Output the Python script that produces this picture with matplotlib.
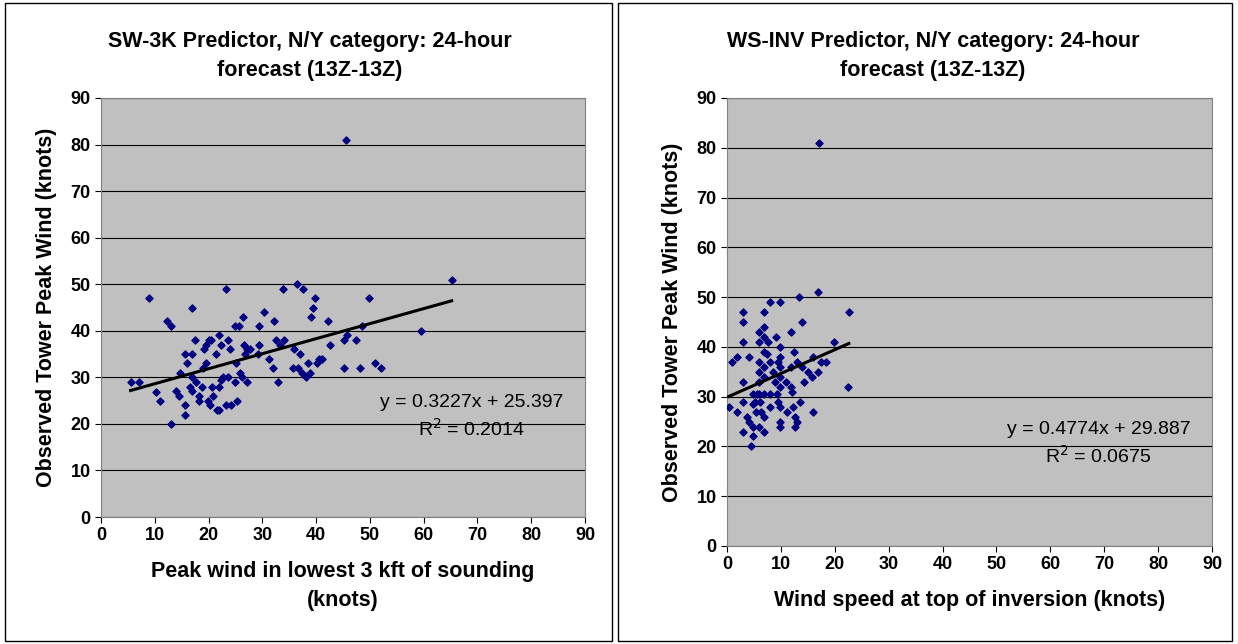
import numpy as np
import matplotlib.pyplot as plt
from matplotlib.patches import Rectangle

plt.rcParams['font.family'] = ['Liberation Sans', 'DejaVu Sans']

# left panel: peak wind in lowest 3 kft vs observed peak wind
sw_x = [5.5, 7, 9, 10.3, 11, 12.3, 13, 13, 14.7, 14, 14.5, 15.7, 15.9, 15.7, 15.7, 17, 17, 17.5,
        16.9, 16.6, 16.9, 17.6, 18.3, 18.3, 18.8, 19.1, 19.5, 20, 20.4, 19.5, 18.9, 19.9, 20.2,
        20.6, 20.8, 21.3, 21.9, 22.4, 21.6, 21.9, 22, 22.4, 22.7, 23.2, 23.6, 23.2, 24.2, 23.7,
        24, 24.9, 25.2, 25.1, 25, 25.7, 25.9, 26.4, 26.2, 26.6, 26.8, 27.2, 27.1, 27.7, 29.4,
        29.4, 29.2, 30.4, 31.2, 31.9, 32.1, 32.5, 33, 33.3, 33.8, 34.1, 35.7, 35.8, 36.5, 36.6,
        37, 37.6, 37.4, 38.2, 38.5, 38.9, 39, 39.4, 39.8, 40.2, 40.5, 41.1, 42.3, 42.5, 45.2,
        45.2, 45.7, 47.4, 48.2, 48.6, 49.8, 50.9, 52, 59.5, 65.2, 45.5]
sw_y = [29, 29, 47, 26.8, 25, 42, 41, 20, 31, 27, 26, 35, 33, 24, 22, 45, 35, 38,
        30, 28, 27, 29, 26, 25, 28, 36, 37, 38, 38, 33, 32, 25, 24,
        28, 26, 35, 39, 37, 23, 23, 28, 29.5, 30, 49, 38, 24, 24, 30,
        36, 41, 25, 33, 29, 41, 31, 43, 30, 37, 35, 36, 29, 36, 41,
        37, 35, 44, 34, 32, 42, 38, 29, 37, 49, 38, 32, 36, 50, 32,
        35, 49, 31, 30, 33, 31, 43, 45, 47, 33, 34, 34, 42, 37, 32,
        38, 39, 38, 32, 41, 47, 33, 32, 40, 51, 81]
sw_fit = (0.3227, 25.397)
sw_r2 = 0.2014

# right panel: wind speed at top of inversion vs observed peak wind
ws_x = [0.3, 0.9, 1.9, 1.9, 2.9, 2.9, 2.9, 2.9, 2.9, 2.9, 4, 3.8, 4, 4.5, 4.9, 4.9, 4.9, 4.9,
        5.2, 5.4, 5.5, 6, 6, 6, 6, 6, 6, 6, 6.1, 6.4, 6.9, 6.9, 6.9, 6.9, 6.9, 6.9, 6.9, 6.9,
        6.9, 7.4, 7.7, 7.9, 8, 8, 8, 8.6, 8.9, 9.1, 9.2, 9.4, 9.5, 9.8, 9.9, 9.9, 9.9, 9.9,
        9.9, 9.9, 9.8, 9.8, 10.9, 11.1, 11.9, 11.9, 11.9, 12, 12.3, 12.4, 12.6, 12.7, 12.9, 13,
        13.4, 13.5, 14, 14, 14.2, 15, 15.7, 15.9, 16, 16.8, 16.8, 17.5, 18.4, 19.8, 22.5, 22.6, 17]
ws_y = [28, 37, 27, 38, 47, 45, 41, 33, 29, 23, 38, 26, 25, 20, 22, 24, 30.5, 28.5,
        29, 27, 30.5, 43, 41, 37, 35, 33, 30.5, 24, 29, 27, 47, 44, 42, 39, 36, 34, 30.5, 26,
        23, 38.5, 41, 37, 49, 28, 30.5, 35, 33, 42, 30.5, 29, 37, 49, 40, 38, 36, 34,
        32, 28, 25, 24, 33, 27, 43, 36, 32, 31, 28, 39, 26, 24, 37, 25,
        50, 29, 45, 36, 33, 35, 34, 38, 27, 35, 51, 37, 37, 41, 32, 47, 81]
ws_fit = (0.4774, 29.887)
ws_r2 = 0.0675

fig = plt.figure(figsize=(12.38, 6.44), dpi=100)
W, H = 1238, 644
for x0, x1 in [(5, 612), (618, 1232)]:
    fig.add_artist(Rectangle((x0 / W, 3 / H), (x1 - x0) / W, (H - 6) / H, transform=fig.transFigure,
                             fill=False, edgecolor='black', lw=1))


def panel(rect, xs, ys, fit, r2, title, title_x, xlabel, eq_pos):
    ax = fig.add_axes([rect[0] / W, 1 - rect[3] / H, (rect[2] - rect[0]) / W, (rect[3] - rect[1]) / H])
    ax.set_facecolor('#c0c0c0')
    ax.set_xlim(0, 90)
    ax.set_ylim(0, 90)
    ax.set_xticks(range(0, 91, 10))
    ax.set_yticks(range(0, 91, 10))
    ax.yaxis.grid(True, color='black', lw=0.8)
    ax.set_axisbelow(True)
    for s in ax.spines.values():
        s.set_color('#808080')
    ax.tick_params(labelsize=13, length=4, direction='out')
    for lab in ax.get_xticklabels() + ax.get_yticklabels():
        lab.set_fontweight('bold')
    ax.scatter(xs, ys, marker='D', s=13, color='#000080', zorder=3)
    xl = np.array([min(xs), max(xs)])
    ax.plot(xl, fit[0] * xl + fit[1], color='black', lw=2.2, zorder=4)
    ax.text(eq_pos[0], eq_pos[1], f'y = {fit[0]}x + {fit[1]}\nR$^2$ = {r2}', fontsize=14,
            ha='right', va='center', linespacing=1.4, multialignment='center')
    fig.text(title_x / W, 1 - 56 / H, title, fontsize=15.5, fontweight='bold', ha='center',
             va='center', linespacing=1.5)
    ax.set_xlabel(xlabel, fontsize=15.5, fontweight='bold', labelpad=12, linespacing=1.5)
    ax.set_ylabel('Observed Tower Peak Wind (knots)', fontsize=15.5, fontweight='bold', labelpad=10)
    return ax


panel((101, 98, 585, 517), sw_x, sw_y, sw_fit, sw_r2,
      'SW-3K Predictor, N/Y category: 24-hour\nforecast (13Z-13Z)', 310,
      'Peak wind in lowest 3 kft of sounding\n(knots)', (86, 21.5))
panel((727, 98, 1212, 546), ws_x, ws_y, ws_fit, ws_r2,
      'WS-INV Predictor, N/Y category: 24-hour\nforecast (13Z-13Z)', 933,
      'Wind speed at top of inversion (knots)', (86, 20.5))

fig.savefig('out.png', dpi=100)
